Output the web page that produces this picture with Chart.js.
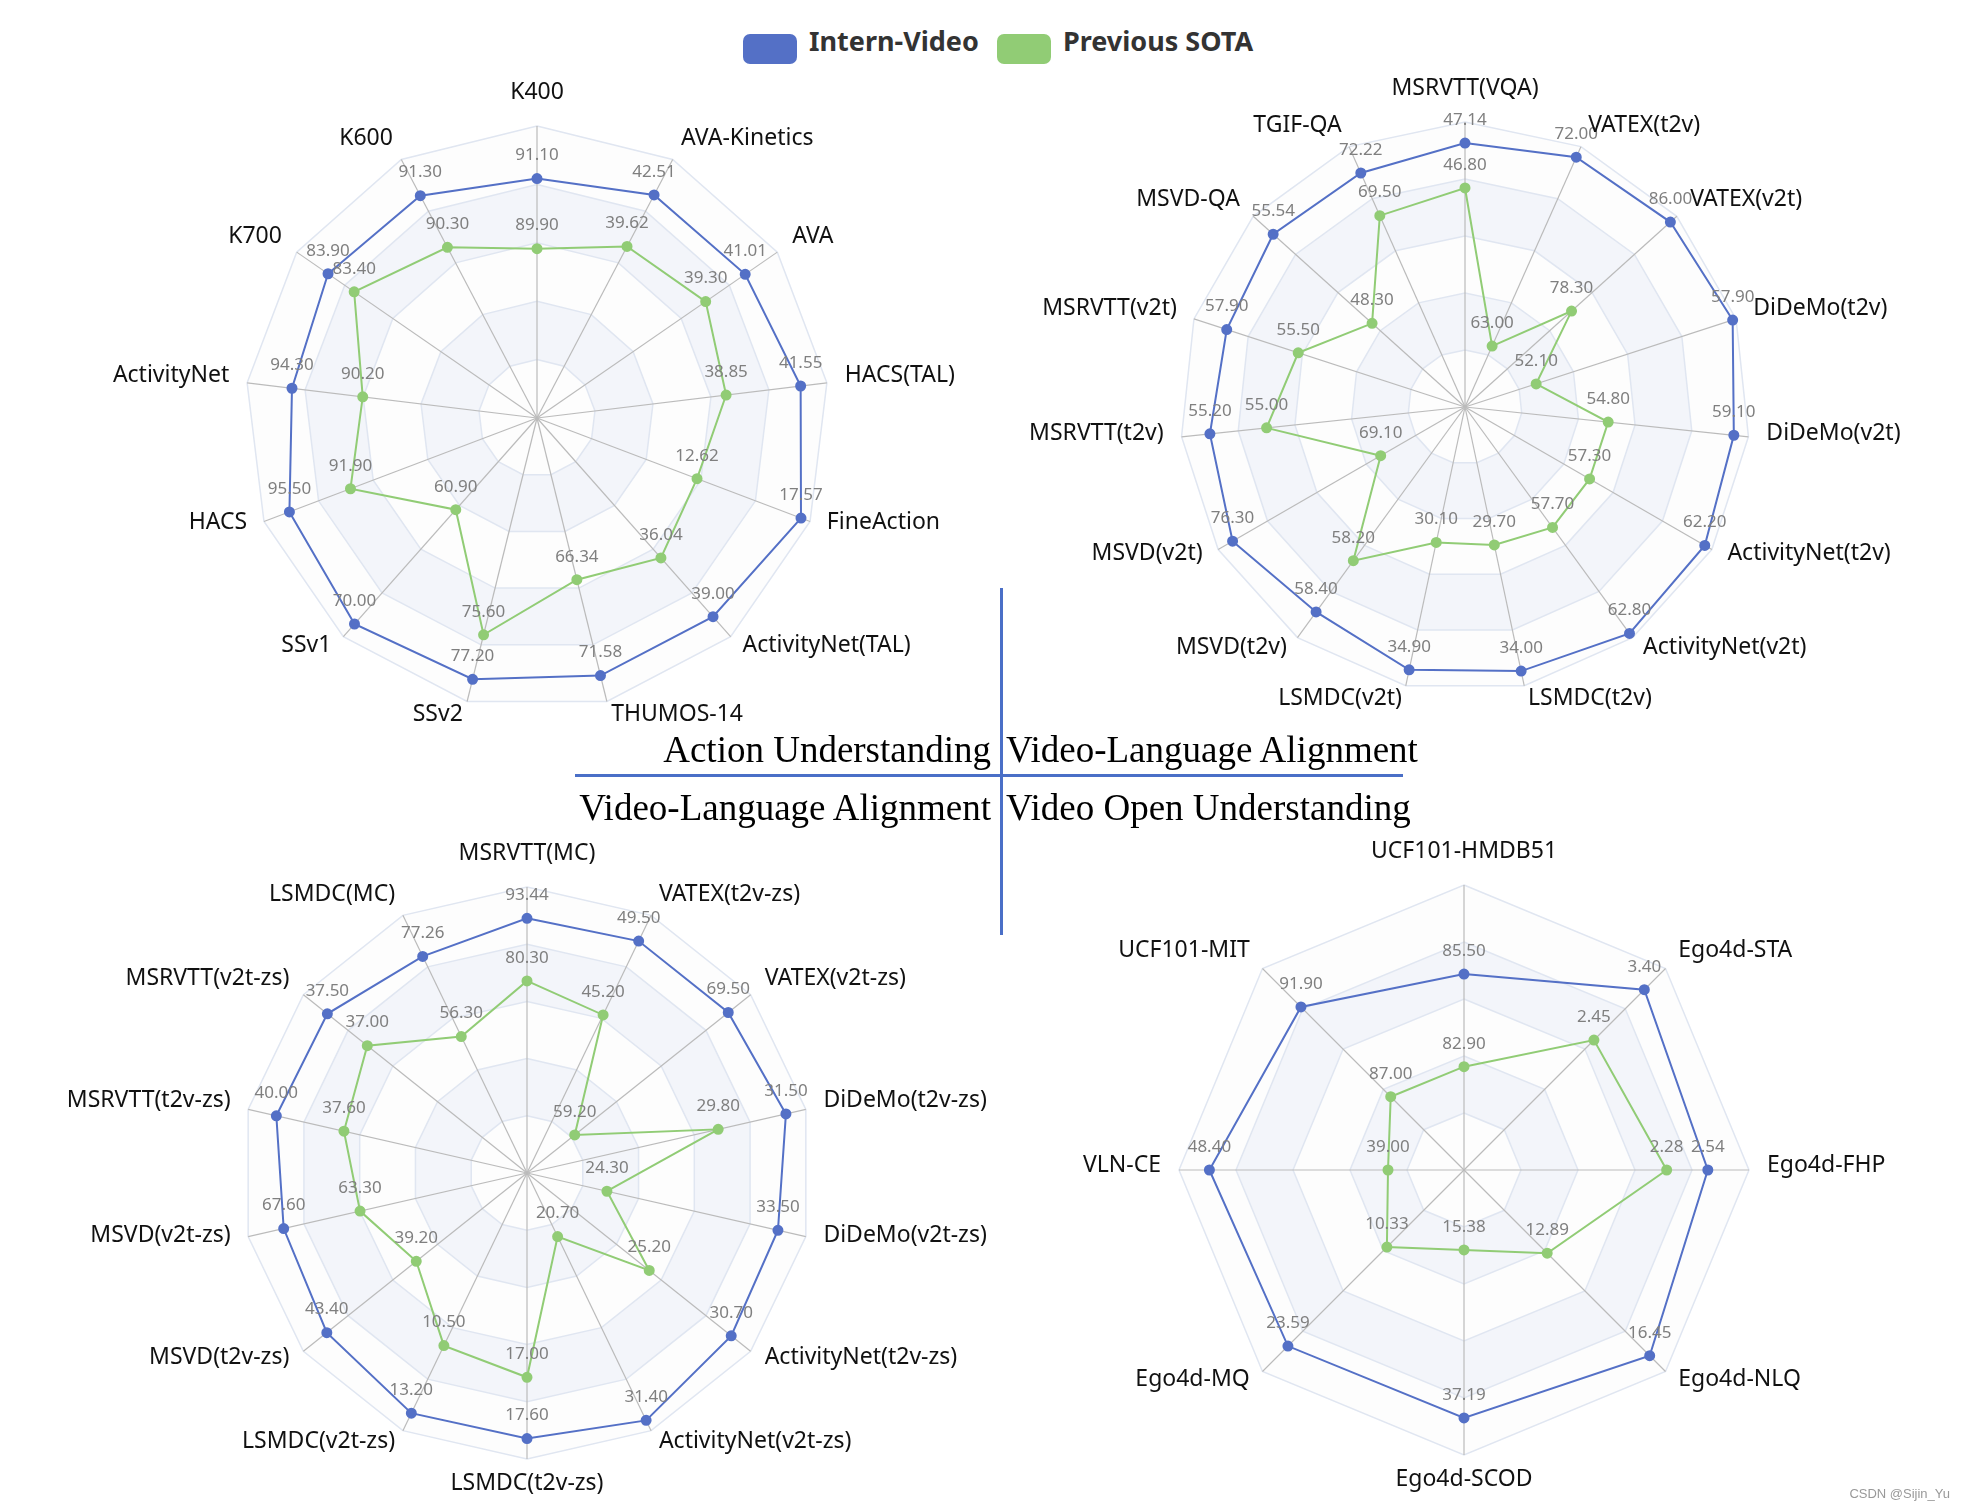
<!DOCTYPE html>
<html lang="en">
<head>
<meta charset="utf-8">
<title>Intern-Video vs Previous SOTA</title>
<script src="https://cdn.jsdelivr.net/npm/chart.js"></script>
<style>
    body {
        margin: 0;
        width: 1964px;
        height: 1512px;
        position: relative;
        overflow: hidden;
        background: #fff;
        font-family: "Noto Sans", sans-serif;
    }
    canvas.radar { position: absolute; }
    .swatch {
        position: absolute;
        top: 34px;
        width: 54px;
        height: 30px;
        border-radius: 7px;
    }
    .legend-text {
        position: absolute;
        top: 40px;
        transform: translateY(-50%);
        font-size: 27px;
        font-weight: bold;
        color: #333;
        white-space: nowrap;
    }
    .title {
        position: absolute;
        font-family: "Liberation Serif", serif;
        font-size: 37px;
        color: #000;
        white-space: nowrap;
        line-height: 1;
        transform: translateY(-50%);
    }
    .rule { position: absolute; background: #4a6fc7; }
    .mark {
        position: absolute;
        right: 14px;
        top: 1486px;
        font-family: "Liberation Sans", sans-serif;
        font-size: 13px;
        color: #999;
    }
</style>
</head>
<body>
    <div class="swatch" style="left:743px; background:#5470c6;"></div>
    <div class="legend-text" style="left:809px;">Intern-Video</div>
    <div class="swatch" style="left:997px; background:#91cc75;"></div>
    <div class="legend-text" style="left:1063px;">Previous SOTA</div>

    <canvas id="action" class="radar"></canvas>
    <canvas id="vlFinetune" class="radar"></canvas>
    <canvas id="vlZeroShot" class="radar"></canvas>
    <canvas id="openWorld" class="radar"></canvas>

    <div class="rule" style="left:1000px; top:588px; width:3px; height:347px;"></div>
    <div class="rule" style="left:575px; top:774px; width:828px; height:3px;"></div>
    <div class="title" style="right:973px; top:749px;">Action Understanding</div>
    <div class="title" style="left:1006px; top:749px;">Video-Language Alignment</div>
    <div class="title" style="right:973px; top:807px;">Video-Language Alignment</div>
    <div class="title" style="left:1006px; top:807px;">Video Open Understanding</div>

    <div class="mark">CSDN @Sijin_Yu</div>

    <script>
        const seriesNames = ['Intern-Video', 'Previous SOTA'];
        const seriesColors = ['#5470c6', '#91cc75'];

        // Action Understanding (top left)
        const actionAxes = ['K400', 'AVA-Kinetics', 'AVA', 'HACS(TAL)', 'FineAction', 'ActivityNet(TAL)', 'THUMOS-14', 'SSv2', 'SSv1', 'HACS', 'ActivityNet', 'K700', 'K600'];
        const actionIntern = [91.10, 42.51, 41.01, 41.55, 17.57, 39.00, 71.58, 77.20, 70.00, 95.50, 94.30, 83.90, 91.30];
        const actionSota = [89.90, 39.62, 39.30, 38.85, 12.62, 36.04, 66.34, 75.60, 60.90, 91.90, 90.20, 83.40, 90.30];
        const actionMin = [87.0, 30.0, 32.0, 32.0, 5.0, 29.0, 57.5, 67.8, 53.6, 80.9, 80.1, 79.9, 87.0];
        const actionMax = [92.0, 44.5, 42.4, 42.5, 18.0, 40.0, 73.0, 78.0, 71.0, 97.0, 96.9, 84.5, 92.0];

        // Video-Language Alignment (top right)
        const vlAxes = ['MSRVTT(VQA)', 'VATEX(t2v)', 'VATEX(v2t)', 'DiDeMo(t2v)', 'DiDeMo(v2t)', 'ActivityNet(t2v)', 'ActivityNet(v2t)', 'LSMDC(t2v)', 'LSMDC(v2t)', 'MSVD(t2v)', 'MSVD(v2t)', 'MSRVTT(t2v)', 'MSRVTT(v2t)', 'MSVD-QA', 'TGIF-QA'];
        const vlIntern = [47.14, 72.00, 86.00, 57.90, 59.10, 62.20, 62.80, 34.00, 34.90, 58.40, 76.30, 55.20, 57.90, 55.54, 72.22];
        const vlSota = [46.80, 63.00, 78.30, 52.10, 54.80, 57.30, 57.70, 29.70, 30.10, 58.20, 69.10, 55.00, 55.50, 48.30, 69.50];
        const vlMin = [45.14, 60.1, 70.0, 50.0, 49.9, 52.0, 51.9, 25.0, 25.0, 57.6, 65.0, 54.3, 49.9, 41.5, 57.3];
        const vlMax = [47.3, 72.5, 86.5, 58.0, 59.6, 62.5, 63.0, 34.5, 35.5, 58.5, 77.0, 55.3, 59.0, 57.0, 73.9];

        // Video-Language Alignment, zero-shot (bottom left)
        const zsAxes = ['MSRVTT(MC)', 'VATEX(t2v-zs)', 'VATEX(v2t-zs)', 'DiDeMo(t2v-zs)', 'DiDeMo(v2t-zs)', 'ActivityNet(t2v-zs)', 'ActivityNet(v2t-zs)', 'LSMDC(t2v-zs)', 'LSMDC(v2t-zs)', 'MSVD(t2v-zs)', 'MSVD(v2t-zs)', 'MSRVTT(t2v-zs)', 'MSRVTT(v2t-zs)', 'LSMDC(MC)'];
        const zsIntern = [93.44, 49.50, 69.50, 31.50, 33.50, 30.70, 31.40, 17.60, 13.20, 43.40, 67.60, 40.00, 37.50, 77.26];
        const zsSota = [80.30, 45.20, 59.20, 29.80, 24.30, 25.20, 20.70, 17.00, 10.50, 39.20, 63.30, 37.60, 37.00, 56.30];
        const zsMin = [40.0, 36.0, 56.0, 25.0, 20.0, 17.0, 17.0, 15.0, 3.6, 34.0, 53.9, 31.1, 35.0, 20.6];
        const zsMax = [100.0, 51.0, 71.0, 32.0, 35.0, 32.0, 32.0, 17.8, 13.9, 44.5, 69.6, 41.0, 37.8, 88.0];

        // Video Open Understanding (bottom right)
        const openAxes = ['UCF101-HMDB51', 'Ego4d-STA', 'Ego4d-FHP', 'Ego4d-NLQ', 'Ego4d-SCOD', 'Ego4d-MQ', 'VLN-CE', 'UCF101-MIT'];
        const openIntern = [85.50, 3.40, 2.54, 16.45, 37.19, 23.59, 48.40, 91.90];
        const openSota = [82.90, 2.45, 2.28, 12.89, 15.38, 10.33, 39.00, 87.00];
        const openMin = [80.0, 0.0, 1.0, 10.0, 5.0, 0.0, 35.0, 83.0];
        const openMax = [88.0, 3.8, 2.8, 17.0, 42.0, 27.0, 50.0, 94.0];

        // shaded rings behind the grid (drawn outer to inner)
        const splitAreaPlugin = {
            id: 'splitArea',
            beforeDraw(chart) {
                const r = chart.scales.r;
                const ctx = chart.ctx;
                const n = chart.data.labels.length;
                const fills = ['#fdfdfd', '#f3f5fa'];
                ctx.save();
                for (let k = 4; k >= 0; k--) {
                    ctx.beginPath();
                    for (let i = 0; i < n; i++) {
                        const p = r.getPointPositionForValue(i, (k + 1) * 20);
                        if (i === 0) ctx.moveTo(p.x, p.y); else ctx.lineTo(p.x, p.y);
                    }
                    ctx.closePath();
                    ctx.fillStyle = fills[k % 2];
                    ctx.fill();
                }
                ctx.restore();
            }
        };

        // raw value above every point
        const valueLabelPlugin = {
            id: 'valueLabels',
            afterDatasetsDraw(chart) {
                const ctx = chart.ctx;
                ctx.save();
                ctx.font = '17px "Noto Sans"';
                ctx.fillStyle = '#7f7f7f';
                ctx.textAlign = 'center';
                ctx.textBaseline = 'middle';
                chart.data.datasets.forEach((ds, di) => {
                    chart.getDatasetMeta(di).data.forEach((pt, i) => {
                        ctx.fillText(ds.labelValues[i].toFixed(2), pt.x, pt.y - 23);
                    });
                });
                ctx.restore();
            }
        };

        // indicator names, placed like echarts radar names
        const axisNamePlugin = {
            id: 'axisNames',
            afterDraw(chart) {
                const r = chart.scales.r;
                const ctx = chart.ctx;
                ctx.save();
                ctx.font = '23px "Noto Sans"';
                ctx.fillStyle = '#111';
                ctx.textBaseline = 'middle';
                chart.data.labels.forEach((name, i) => {
                    const p = r.getPointPosition(i, r.drawingArea + 18);
                    const dx = p.x - r.xCenter;
                    const dy = p.y - r.yCenter;
                    let y = p.y - 5;
                    if (Math.abs(dx) < 1) {
                        ctx.textAlign = 'center';
                        y += dy < 0 ? -11 : 11;
                    } else {
                        ctx.textAlign = dx > 0 ? 'left' : 'right';
                    }
                    ctx.fillText(name, p.x, y);
                });
                ctx.restore();
            }
        };

        function radarChart(id, box, axes, intern, sota, lo, hi) {
            const canvas = document.getElementById(id);
            const pad = 230;
            const size = 2 * (box.r + pad);
            canvas.width = size;
            canvas.height = size;
            canvas.style.left = (box.cx - box.r - pad) + 'px';
            canvas.style.top = (box.cy - box.r - pad) + 'px';

            const norm = vals => vals.map((v, i) => (v - lo[i]) / (hi[i] - lo[i]) * 100);
            const makeSet = (k, vals) => ({
                label: seriesNames[k],
                data: norm(vals),
                labelValues: vals,
                borderColor: seriesColors[k],
                backgroundColor: seriesColors[k],
                pointBackgroundColor: seriesColors[k],
                pointBorderColor: seriesColors[k],
                pointRadius: 4.5,
                borderWidth: 2,
                fill: false
            });

            return new Chart(canvas, {
                type: 'radar',
                data: {
                    labels: axes,
                    datasets: [makeSet(0, intern), makeSet(1, sota)]
                },
                options: {
                    responsive: false,
                    animation: false,
                    layout: { padding: pad },
                    plugins: {
                        legend: { display: false },
                        tooltip: { enabled: false }
                    },
                    scales: {
                        r: {
                            min: 0,
                            max: 100,
                            ticks: { display: false, stepSize: 20 },
                            grid: { color: '#e0e6f1', lineWidth: 1.5 },
                            angleLines: { color: '#bbbbbb', lineWidth: 1.2 },
                            pointLabels: { display: false }
                        }
                    }
                },
                plugins: [splitAreaPlugin, valueLabelPlugin, axisNamePlugin]
            });
        }

        radarChart('action', { cx: 536.5, cy: 417.6, r: 292 }, actionAxes, actionIntern, actionSota, actionMin, actionMax);
        radarChart('vlFinetune', { cx: 1465, cy: 406.7, r: 285 }, vlAxes, vlIntern, vlSota, vlMin, vlMax);
        radarChart('vlZeroShot', { cx: 526.7, cy: 1172.6, r: 286 }, zsAxes, zsIntern, zsSota, zsMin, zsMax);
        radarChart('openWorld', { cx: 1464.3, cy: 1170.4, r: 285 }, openAxes, openIntern, openSota, openMin, openMax);
    </script>
</body>
</html>
